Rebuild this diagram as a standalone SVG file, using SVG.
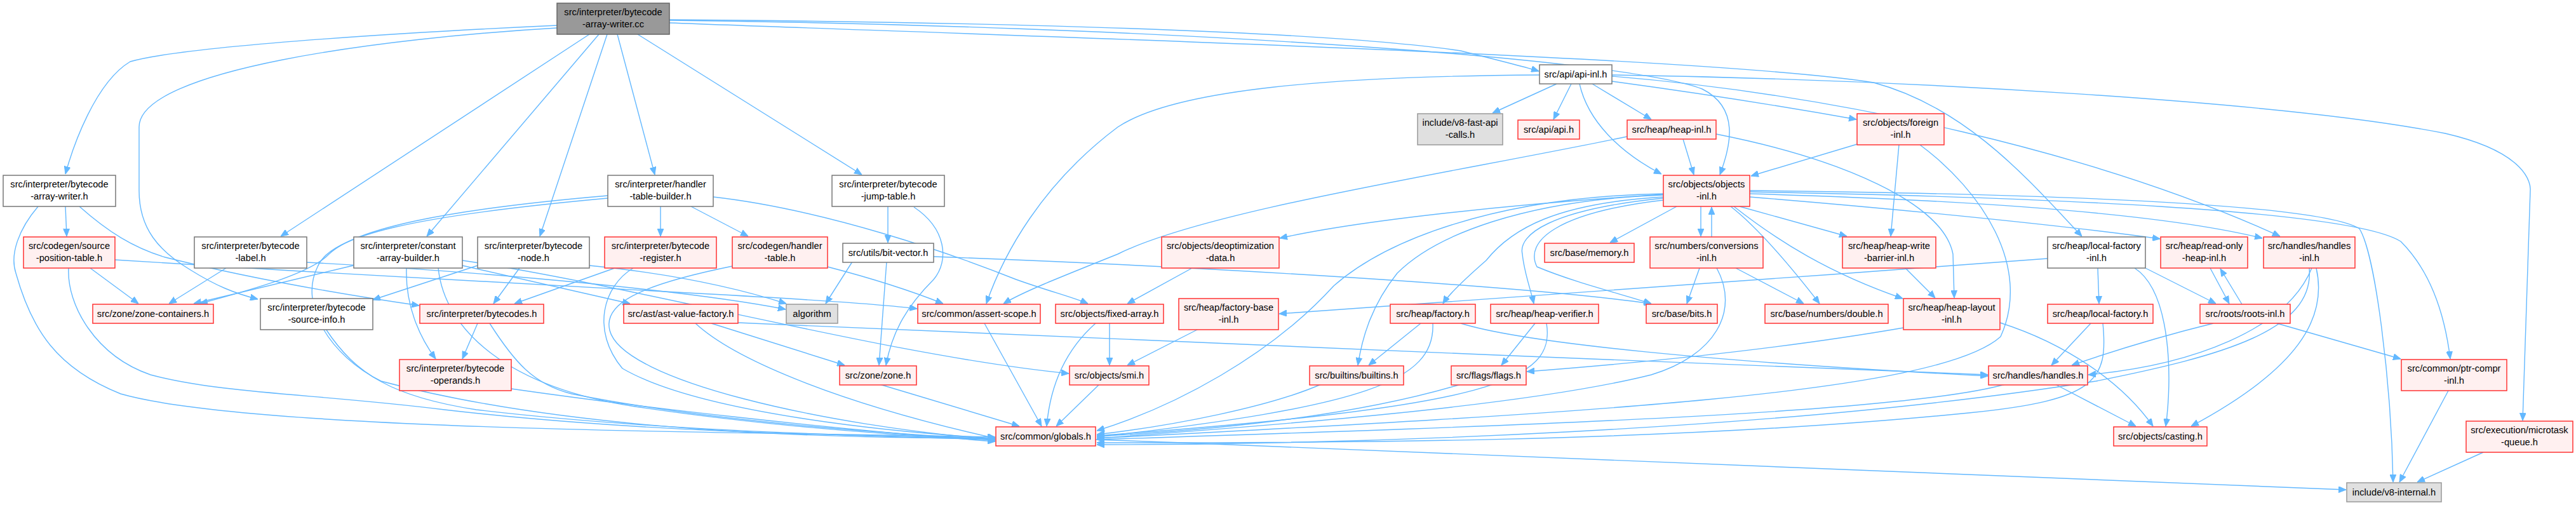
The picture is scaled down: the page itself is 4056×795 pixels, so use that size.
<svg xmlns="http://www.w3.org/2000/svg" width="4056" height="795" viewBox="0 0 4056 795">
<style>
.n rect{stroke-width:1.5}
.r rect{fill:#fff0f0;stroke:#ff3333}
.w rect{fill:#ffffff;stroke:#777777}
.g rect{fill:#e0e0e0;stroke:#999999}
.t rect{fill:#999999;stroke:#666666}
.n text{font-family:"Liberation Sans",Arial,sans-serif;font-size:14.7px;fill:#000;text-anchor:middle}
#edges path{fill:none;stroke:#63b8ff;stroke-width:1.4;marker-end:url(#ah)}
</style>
<defs>
<marker id="ah" viewBox="0 0 12 10" refX="12" refY="5" markerWidth="12" markerHeight="10" markerUnits="userSpaceOnUse" orient="auto">
<path d="M0,0 L12,5 L0,10 z" fill="#63b8ff" stroke="#63b8ff"/>
</marker>
</defs>
<rect width="4056" height="795" fill="#ffffff"/>
<g id="edges">
<path d="M877,40 C700,48 300,70 205,97 C150,130 115,230 103,274"/>
<path d="M877,44 C600,60 219,110 219,200 L219,300 C219,360 250,395 300,425 C340,450 370,462 406,471"/>
<path d="M928,54 L442,372"/>
<path d="M943,54 L672,372"/>
<path d="M956,54 L850,372"/>
<path d="M972,54 L1031,275"/>
<path d="M1004,54 L1357,275"/>
<path d="M1054,31 C1600,35 2100,50 2300,80 C2360,95 2400,105 2423,112"/>
<path d="M1054,32 C1800,40 2550,90 2680,140 C2740,170 2725,230 2708,275"/>
<path d="M1054,36 C1700,60 2700,90 2950,130 C3100,170 3200,290 3278,372"/>
<path d="M103,325 L105,372"/>
<path d="M125,325 C170,365 210,390 260,405 C400,440 550,465 660,481"/>
<path d="M60,325 C30,360 15,400 25,430 C50,520 90,580 190,620 C400,680 1200,680 1567,688"/>
<path d="M142,422 L218,478"/>
<path d="M108,422 C105,480 150,560 237,590 C350,620 500,620 700,645 C1000,680 1300,685 1567,690"/>
<path d="M181,409 C500,430 900,450 1100,462 C1250,470 1380,478 1444,486"/>
<path d="M356,422 L266,478"/>
<path d="M483,413 C800,430 1100,460 1237,487"/>
<path d="M556,418 L305,478"/>
<path d="M640,422 C638,480 660,530 686,565"/>
<path d="M728,418 L992,478"/>
<path d="M728,410 C1000,450 1400,560 1683,588"/>
<path d="M690,422 C700,520 800,610 1000,640 C1200,670 1400,685 1567,693"/>
<path d="M818,422 L777,478"/>
<path d="M752,418 L587,472"/>
<path d="M928,418 C1050,430 1150,450 1238,478"/>
<path d="M968,422 L810,478"/>
<path d="M997,422 C950,450 930,520 980,580 C1100,650 1400,680 1567,690"/>
<path d="M957,308 C700,330 560,360 518,400 C490,430 400,455 315,478"/>
<path d="M1040,325 L1040,372"/>
<path d="M1088,325 L1178,372"/>
<path d="M1123,310 C1300,330 1500,400 1600,440 C1650,458 1690,468 1713,478"/>
<path d="M957,312 C650,340 520,370 500,420 C470,480 520,560 600,600 C900,680 1300,690 1567,690"/>
<path d="M1303,420 C1380,440 1440,460 1485,478"/>
<path d="M1153,419 C1000,450 950,480 960,520 C980,600 1300,670 1567,692"/>
<path d="M1398,325 L1398,382"/>
<path d="M1439,326 C1490,360 1495,410 1470,440 C1430,480 1405,520 1395,575"/>
<path d="M1342,412 L1300,478"/>
<path d="M1396,412 L1384,575"/>
<path d="M1470,404 C1900,420 2400,450 2600,478"/>
<path d="M513,518 C560,590 620,625 750,645 C1000,675 1300,685 1567,692"/>
<path d="M752,509 L728,565"/>
<path d="M771,509 C810,570 840,605 900,620 C1100,660 1350,680 1567,692"/>
<path d="M805,612 C1000,640 1300,675 1567,695"/>
<path d="M1120,509 L1330,575"/>
<path d="M1095,509 C1150,560 1300,630 1567,690"/>
<path d="M1162,508 C1500,525 2500,565 3130,590"/>
<path d="M1385,605 L1605,671"/>
<path d="M1550,509 L1640,671"/>
<path d="M1747,509 L1747,575"/>
<path d="M1725,509 C1690,540 1655,590 1648,671"/>
<path d="M1887,518 L1775,575"/>
<path d="M1731,605 L1663,671"/>
<path d="M1877,422 L1775,478"/>
<path d="M2451,132 L2350,178"/>
<path d="M2474,132 L2446,188"/>
<path d="M2507,132 L2600,188"/>
<path d="M2487,132 C2500,190 2550,240 2616,274"/>
<path d="M2538,128 C2700,150 2850,175 2923,188"/>
<path d="M2538,120 C2900,150 3300,240 3590,372"/>
<path d="M2538,118 C3000,125 3600,160 3850,210 C3980,240 3985,290 3984,300 L3972,662"/>
<path d="M2424,118 C2100,120 1850,140 1760,200 C1640,290 1580,400 1553,478"/>
<path d="M2650,219 L2667,275"/>
<path d="M2562,215 C2300,270 1900,330 1760,400 C1660,440 1610,460 1580,478"/>
<path d="M2702,211 C2900,250 3060,320 3075,400 L3077,469"/>
<path d="M2924,227 L2757,277"/>
<path d="M2990,228 L2977,372"/>
<path d="M3023,228 C3120,300 3200,420 3150,530 C3050,620 2500,650 1727,690"/>
<path d="M2619,306 C2400,320 2150,345 2015,375"/>
<path d="M2640,325 L2535,382"/>
<path d="M2678,325 L2678,372"/>
<path d="M2739,325 L2908,372"/>
<path d="M2730,325 C2800,380 2880,430 2996,470"/>
<path d="M2725,325 C2770,360 2820,420 2865,478"/>
<path d="M2619,315 C2450,335 2400,380 2420,420 C2480,445 2550,462 2600,478"/>
<path d="M2619,312 C2440,330 2390,370 2397,400 C2400,430 2410,455 2415,478"/>
<path d="M2619,310 C2450,320 2380,360 2340,410 C2300,445 2280,465 2272,478"/>
<path d="M2619,307 C2400,315 2260,370 2200,430 C2160,480 2145,530 2138,575"/>
<path d="M2619,305 C2350,310 2180,380 2100,450 C2000,560 1850,640 1727,678"/>
<path d="M2755,310 C3000,330 3250,355 3401,376"/>
<path d="M2755,305 C3100,315 3400,335 3562,375"/>
<path d="M2755,302 C3200,310 3700,330 3780,380 C3830,430 3850,500 3858,565"/>
<path d="M2755,300 C3200,305 3650,320 3715,360 C3740,400 3765,600 3768,759"/>
<path d="M2695,373 L2695,326"/>
<path d="M2676,422 L2656,478"/>
<path d="M2733,422 L2840,478"/>
<path d="M2703,422 C2740,490 2700,560 2600,590 C2400,640 2000,670 1727,690"/>
<path d="M3000,422 L3047,469"/>
<path d="M3149,508 C3250,540 3340,600 3390,671"/>
<path d="M2997,516 C2800,550 2600,570 2404,585"/>
<path d="M2237,509 L2155,575"/>
<path d="M2256,509 C2260,600 2150,640 1727,688"/>
<path d="M2300,509 C2400,540 2700,570 3130,592"/>
<path d="M2417,509 L2364,575"/>
<path d="M2435,509 C2450,600 2350,640 1727,686"/>
<path d="M2080,605 C2000,640 1850,670 1727,684"/>
<path d="M2300,605 C2150,650 1950,675 1727,687"/>
<path d="M3303,422 L3305,478"/>
<path d="M3224,407 C2800,440 2300,470 2014,494"/>
<path d="M3361,422 C3420,460 3420,600 3410,671"/>
<path d="M3378,422 L3489,478"/>
<path d="M3292,509 L3230,575"/>
<path d="M3311,509 C3320,600 3300,630 3100,650 C2600,700 2000,697 1727,697"/>
<path d="M3480,422 L3510,478"/>
<path d="M3530,479 L3496,423"/>
<path d="M3485,509 C3400,530 3320,555 3262,575"/>
<path d="M3585,509 L3780,565"/>
<path d="M3640,422 C3600,520 3450,575 3288,590"/>
<path d="M3647,422 C3665,500 3620,580 3450,671"/>
<path d="M3636,422 C3645,520 3500,560 3300,600 C2800,680 2100,700 1727,700"/>
<path d="M3236,605 L3363,671"/>
<path d="M3157,605 C3000,650 2400,670 1727,692"/>
<path d="M3855,615 L3778,759"/>
<path d="M3910,712 L3806,759"/>
<path d="M1725,692 C2500,720 3300,760 3694,771"/>
</g>
<g id="n0" class="n t"><rect x="877" y="5" width="177" height="49"/><text x="965.5" y="24">src/interpreter/bytecode</text><text x="965.5" y="43">-array-writer.cc</text></g>
<g id="n1" class="n w"><rect x="5" y="276" width="177" height="49"/><text x="93.5" y="295">src/interpreter/bytecode</text><text x="93.5" y="314">-array-writer.h</text></g>
<g id="n2" class="n r"><rect x="37" y="373" width="144" height="49"/><text x="109" y="392">src/codegen/source</text><text x="109" y="411">-position-table.h</text></g>
<g id="n3" class="n r"><rect x="146" y="479" width="190" height="30"/><text x="241" y="499">src/zone/zone-containers.h</text></g>
<g id="n4" class="n w"><rect x="2424" y="102" width="114" height="30"/><text x="2481" y="122">src/api/api-inl.h</text></g>
<g id="n5" class="n g"><rect x="2232" y="179" width="134" height="49"/><text x="2299" y="198">include/v8-fast-api</text><text x="2299" y="217">-calls.h</text></g>
<g id="n6" class="n r"><rect x="2390" y="189" width="97" height="30"/><text x="2438.5" y="209">src/api/api.h</text></g>
<g id="n7" class="n r"><rect x="2562" y="189" width="140" height="30"/><text x="2632" y="209">src/heap/heap-inl.h</text></g>
<g id="n8" class="n r"><rect x="2924" y="179" width="137" height="49"/><text x="2992.5" y="198">src/objects/foreign</text><text x="2992.5" y="217">-inl.h</text></g>
<g id="n9" class="n r"><rect x="2619" y="276" width="136" height="49"/><text x="2687" y="295">src/objects/objects</text><text x="2687" y="314">-inl.h</text></g>
<g id="n10" class="n w"><rect x="957" y="276" width="166" height="49"/><text x="1040" y="295">src/interpreter/handler</text><text x="1040" y="314">-table-builder.h</text></g>
<g id="n11" class="n w"><rect x="1310" y="276" width="177" height="49"/><text x="1398.5" y="295">src/interpreter/bytecode</text><text x="1398.5" y="314">-jump-table.h</text></g>
<g id="n12" class="n w"><rect x="306" y="373" width="177" height="49"/><text x="394.5" y="392">src/interpreter/bytecode</text><text x="394.5" y="411">-label.h</text></g>
<g id="n13" class="n w"><rect x="557" y="373" width="171" height="49"/><text x="642.5" y="392">src/interpreter/constant</text><text x="642.5" y="411">-array-builder.h</text></g>
<g id="n14" class="n w"><rect x="752" y="373" width="176" height="49"/><text x="840" y="392">src/interpreter/bytecode</text><text x="840" y="411">-node.h</text></g>
<g id="n15" class="n r"><rect x="952" y="373" width="176" height="49"/><text x="1040" y="392">src/interpreter/bytecode</text><text x="1040" y="411">-register.h</text></g>
<g id="n16" class="n r"><rect x="1153" y="373" width="150" height="49"/><text x="1228" y="392">src/codegen/handler</text><text x="1228" y="411">-table.h</text></g>
<g id="n17" class="n w"><rect x="1327" y="383" width="143" height="30"/><text x="1398.5" y="403">src/utils/bit-vector.h</text></g>
<g id="n18" class="n r"><rect x="1829" y="373" width="185" height="49"/><text x="1921.5" y="392">src/objects/deoptimization</text><text x="1921.5" y="411">-data.h</text></g>
<g id="n19" class="n r"><rect x="2432" y="383" width="141" height="30"/><text x="2502.5" y="403">src/base/memory.h</text></g>
<g id="n20" class="n r"><rect x="2598" y="373" width="178" height="49"/><text x="2687" y="392">src/numbers/conversions</text><text x="2687" y="411">-inl.h</text></g>
<g id="n21" class="n r"><rect x="2901" y="373" width="147" height="49"/><text x="2974.5" y="392">src/heap/heap-write</text><text x="2974.5" y="411">-barrier-inl.h</text></g>
<g id="n22" class="n w"><rect x="3224" y="373" width="154" height="49"/><text x="3301" y="392">src/heap/local-factory</text><text x="3301" y="411">-inl.h</text></g>
<g id="n23" class="n r"><rect x="3402" y="373" width="137" height="49"/><text x="3470.5" y="392">src/heap/read-only</text><text x="3470.5" y="411">-heap-inl.h</text></g>
<g id="n24" class="n r"><rect x="3564" y="373" width="144" height="49"/><text x="3636" y="392">src/handles/handles</text><text x="3636" y="411">-inl.h</text></g>
<g id="n25" class="n w"><rect x="410" y="470" width="177" height="49"/><text x="498.5" y="489">src/interpreter/bytecode</text><text x="498.5" y="508">-source-info.h</text></g>
<g id="n26" class="n r"><rect x="661" y="479" width="195" height="30"/><text x="758.5" y="499">src/interpreter/bytecodes.h</text></g>
<g id="n27" class="n r"><rect x="982" y="479" width="180" height="30"/><text x="1072" y="499">src/ast/ast-value-factory.h</text></g>
<g id="n28" class="n g"><rect x="1238" y="479" width="81" height="30"/><text x="1278.5" y="499">algorithm</text></g>
<g id="n29" class="n r"><rect x="1445" y="479" width="193" height="30"/><text x="1541.5" y="499">src/common/assert-scope.h</text></g>
<g id="n30" class="n r"><rect x="1662" y="479" width="170" height="30"/><text x="1747" y="499">src/objects/fixed-array.h</text></g>
<g id="n31" class="n r"><rect x="1856" y="470" width="157" height="49"/><text x="1934.5" y="489">src/heap/factory-base</text><text x="1934.5" y="508">-inl.h</text></g>
<g id="n32" class="n r"><rect x="2189" y="479" width="134" height="30"/><text x="2256" y="499">src/heap/factory.h</text></g>
<g id="n33" class="n r"><rect x="2347" y="479" width="170" height="30"/><text x="2432" y="499">src/heap/heap-verifier.h</text></g>
<g id="n34" class="n r"><rect x="2592" y="479" width="112" height="30"/><text x="2648" y="499">src/base/bits.h</text></g>
<g id="n35" class="n r"><rect x="2779" y="479" width="194" height="30"/><text x="2876" y="499">src/base/numbers/double.h</text></g>
<g id="n36" class="n r"><rect x="2997" y="470" width="152" height="49"/><text x="3073" y="489">src/heap/heap-layout</text><text x="3073" y="508">-inl.h</text></g>
<g id="n37" class="n r"><rect x="3224" y="479" width="166" height="30"/><text x="3307" y="499">src/heap/local-factory.h</text></g>
<g id="n38" class="n r"><rect x="3464" y="479" width="142" height="30"/><text x="3535" y="499">src/roots/roots-inl.h</text></g>
<g id="n39" class="n r"><rect x="629" y="566" width="176" height="49"/><text x="717" y="585">src/interpreter/bytecode</text><text x="717" y="604">-operands.h</text></g>
<g id="n40" class="n r"><rect x="1322" y="576" width="121" height="30"/><text x="1382.5" y="596">src/zone/zone.h</text></g>
<g id="n41" class="n r"><rect x="1684" y="576" width="125" height="30"/><text x="1746.5" y="596">src/objects/smi.h</text></g>
<g id="n42" class="n r"><rect x="2062" y="576" width="148" height="30"/><text x="2136" y="596">src/builtins/builtins.h</text></g>
<g id="n43" class="n r"><rect x="2285" y="576" width="118" height="30"/><text x="2344" y="596">src/flags/flags.h</text></g>
<g id="n44" class="n r"><rect x="3131" y="576" width="156" height="30"/><text x="3209" y="596">src/handles/handles.h</text></g>
<g id="n45" class="n r"><rect x="3781" y="566" width="166" height="49"/><text x="3864" y="585">src/common/ptr-compr</text><text x="3864" y="604">-inl.h</text></g>
<g id="n46" class="n r"><rect x="1568" y="672" width="157" height="30"/><text x="1646.5" y="692">src/common/globals.h</text></g>
<g id="n47" class="n r"><rect x="3328" y="672" width="147" height="30"/><text x="3401.5" y="692">src/objects/casting.h</text></g>
<g id="n48" class="n r"><rect x="3883" y="663" width="168" height="49"/><text x="3967" y="682">src/execution/microtask</text><text x="3967" y="701">-queue.h</text></g>
<g id="n49" class="n g"><rect x="3695" y="760" width="149" height="30"/><text x="3769.5" y="780">include/v8-internal.h</text></g>
</svg>
